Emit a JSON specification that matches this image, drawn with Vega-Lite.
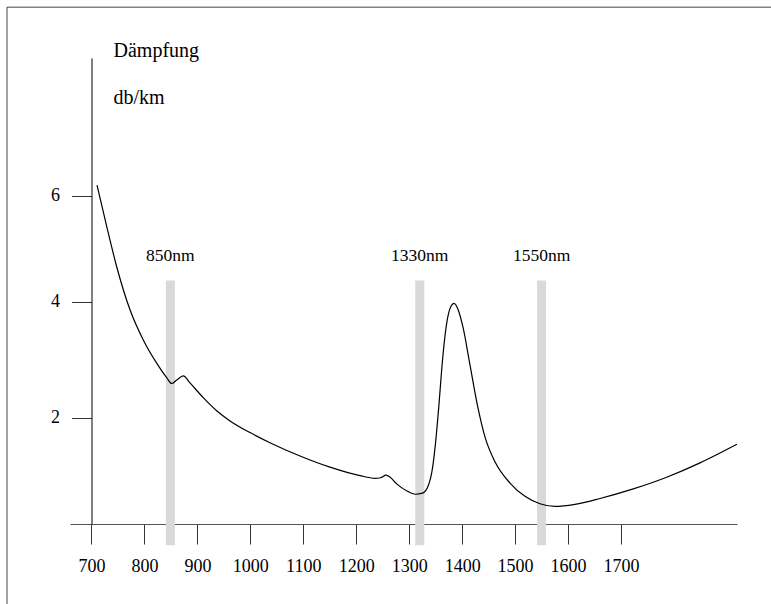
{
  "$schema": "https://vega.github.io/schema/vega-lite/v6.json",
  "autosize": "none",
  "width": 667,
  "height": 466,
  "padding": {"left": 70, "top": 58, "right": 34, "bottom": 80},
  "background": "white",
  "config": {"view": {"stroke": null}, "font": "Liberation Serif"},
  "datasets": {
    "curve": [
      {"nm": 710.4, "db": 6.2},
      {"nm": 728.7, "db": 5.42},
      {"nm": 747.6, "db": 4.66},
      {"nm": 772.7, "db": 3.86},
      {"nm": 797.8, "db": 3.34},
      {"nm": 823.1, "db": 2.94},
      {"nm": 842.0, "db": 2.69},
      {"nm": 851.5, "db": 2.59},
      {"nm": 860.9, "db": 2.65},
      {"nm": 873.4, "db": 2.72},
      {"nm": 886.0, "db": 2.6},
      {"nm": 910.6, "db": 2.35},
      {"nm": 936.4, "db": 2.12},
      {"nm": 961.6, "db": 1.94},
      {"nm": 999.3, "db": 1.72},
      {"nm": 1037, "db": 1.53},
      {"nm": 1093.8, "db": 1.28},
      {"nm": 1150.4, "db": 1.07},
      {"nm": 1207, "db": 0.91},
      {"nm": 1235.4, "db": 0.86},
      {"nm": 1246, "db": 0.87},
      {"nm": 1256.2, "db": 0.92},
      {"nm": 1264, "db": 0.88},
      {"nm": 1277, "db": 0.75},
      {"nm": 1295.9, "db": 0.62},
      {"nm": 1312, "db": 0.56},
      {"nm": 1325, "db": 0.58},
      {"nm": 1336, "db": 0.72},
      {"nm": 1344, "db": 1.05},
      {"nm": 1350, "db": 1.55},
      {"nm": 1356, "db": 2.2},
      {"nm": 1362, "db": 2.9},
      {"nm": 1370, "db": 3.58},
      {"nm": 1378.9, "db": 3.92},
      {"nm": 1384.6, "db": 3.97},
      {"nm": 1392.1, "db": 3.87},
      {"nm": 1401.6, "db": 3.56},
      {"nm": 1414.8, "db": 2.91},
      {"nm": 1429.9, "db": 2.17},
      {"nm": 1443.1, "db": 1.64},
      {"nm": 1462, "db": 1.17},
      {"nm": 1490.4, "db": 0.77},
      {"nm": 1518.7, "db": 0.52},
      {"nm": 1547, "db": 0.38},
      {"nm": 1575.4, "db": 0.33},
      {"nm": 1613.2, "db": 0.37},
      {"nm": 1660.4, "db": 0.48},
      {"nm": 1723.2, "db": 0.66},
      {"nm": 1786.3, "db": 0.88},
      {"nm": 1849.3, "db": 1.15},
      {"nm": 1919, "db": 1.5}
    ],
    "bands": [
      {"nm": 849, "label": "850nm"},
      {"nm": 1320, "label": "1330nm"},
      {"nm": 1550, "label": "1550nm"}
    ]
  },
  "layer": [
    {
      "data": {"name": "bands"},
      "mark": {"type": "rule", "strokeWidth": 9, "color": "#d9d9d9", "clip": false},
      "encoding": {
        "x": {"field": "nm", "type": "quantitative", "scale": {"domain": [659.4, 1919.1], "nice": false, "zero": false},
          "axis": {"values": [700, 800, 900, 1000, 1100, 1200, 1300, 1400, 1500, 1600, 1700], "format": "d", "title": null, "grid": false,
            "domainColor": "#555", "tickColor": "#333", "tickSize": 20, "labelFontSize": 18, "labelFont": "Liberation Serif",
            "labelColor": "black", "labelPadding": 13, "labelFlush": false, "labelOverlap": false}},
        "y": {"datum": 4.4, "type": "quantitative",
          "scale": {"domain": [0, 2, 4, 6, 8.6], "range": [466, 359.7, 243.7, 137.7, 0], "nice": false, "zero": false},
          "axis": {"values": [2, 4, 6], "format": "d", "offset": -21.5, "grid": false, "domainColor": "black", "tickColor": "#333", "tickSize": 20,
            "labelFontSize": 18, "labelFont": "Liberation Serif", "labelColor": "black", "labelPadding": 12,
            "title": ["Dämpfung", "db/km"], "titleAngle": 0, "titleAlign": "left", "titleBaseline": "alphabetic",
            "titleX": 21.5, "titleY": -1.3, "titleLineHeight": 47.3, "titleFontSize": 20, "titleFontWeight": "normal",
            "titleFont": "Liberation Serif", "titleColor": "black"}},
        "y2": {"datum": -0.4}
      }
    },
    {
      "data": {"name": "bands"},
      "mark": {"type": "text", "fontSize": 17.5, "font": "Liberation Serif", "color": "black", "dy": -20, "baseline": "alphabetic", "align": "center", "clip": false},
      "encoding": {
        "x": {"field": "nm", "type": "quantitative"},
        "y": {"datum": 4.4, "type": "quantitative"},
        "text": {"field": "label"}
      }
    },
    {
      "data": {"name": "curve"},
      "mark": {"type": "line", "color": "black", "strokeWidth": 1.2, "interpolate": "monotone", "clip": false},
      "encoding": {
        "x": {"field": "nm", "type": "quantitative"},
        "y": {"field": "db", "type": "quantitative"}
      }
    },
    {
      "data": {"values": [{}]},
      "mark": {"type": "rule", "color": "#444", "strokeWidth": 1, "clip": false},
      "encoding": {
        "x": {"datum": 540.4, "type": "quantitative"},
        "x2": {"datum": 2200},
        "y": {"datum": 9.56, "type": "quantitative"}
      }
    },
    {
      "data": {"values": [{}]},
      "mark": {"type": "rule", "color": "#444", "strokeWidth": 1, "clip": false},
      "encoding": {
        "x": {"datum": 540.4, "type": "quantitative"},
        "y": {"datum": 9.56, "type": "quantitative"},
        "y2": {"datum": -2}
      }
    }
  ]
}
